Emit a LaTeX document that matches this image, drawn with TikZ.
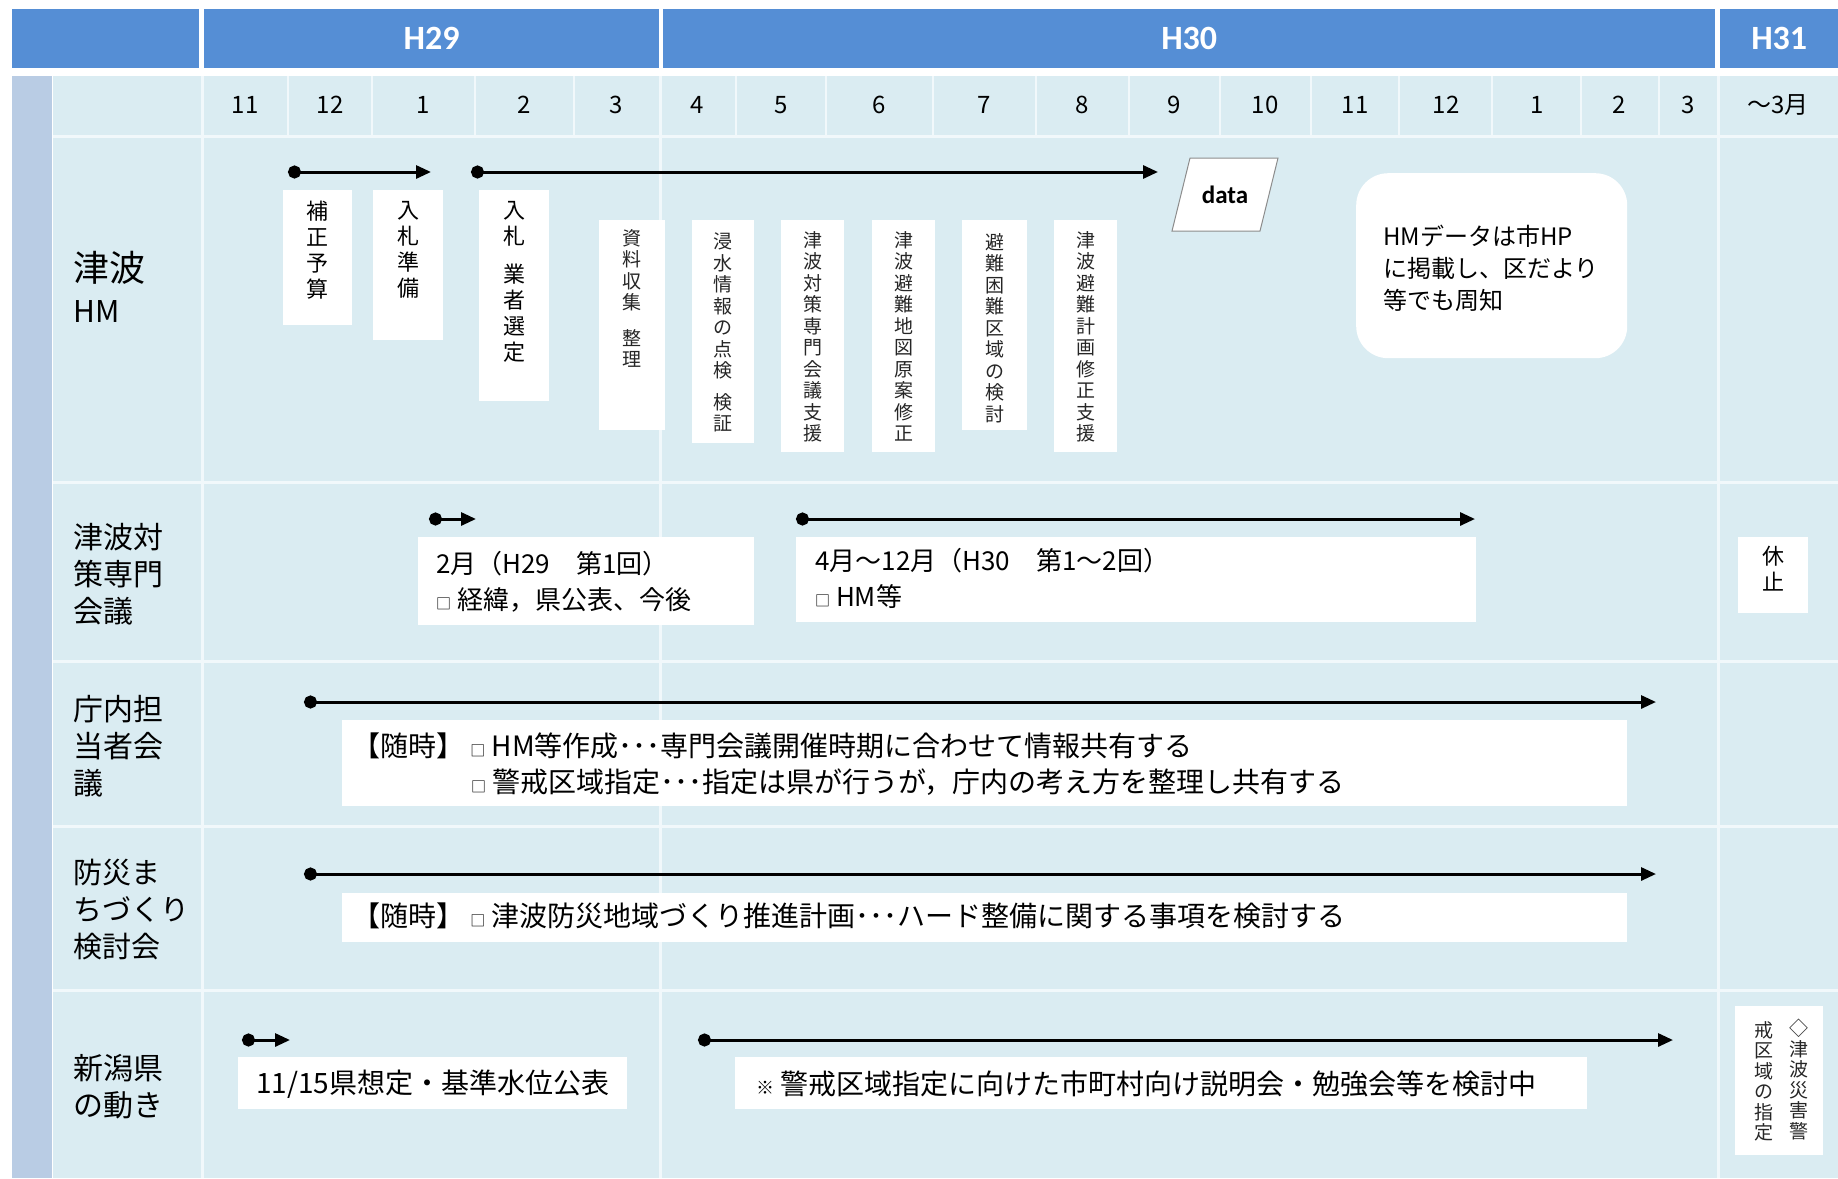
\documentclass[tikz,border=0pt]{standalone}
\usepackage{fontspec}
\setmainfont{Noto Sans CJK JP}
\newfontfamily\hdrfont{Carlito}
\usetikzlibrary{arrows.meta}
\definecolor{hdrblue}{RGB}{85,142,213}
\definecolor{cellblue}{RGB}{218,236,242}
\definecolor{stripblue}{RGB}{185,204,228}
\definecolor{gridwhite}{RGB}{241,248,251}
\newcommand{\sq}{{\fontsize{15}{15}\selectfont □}}
\begin{document}
\begin{tikzpicture}[x=1pt,y=-1pt,
  hdr/.style={fill=hdrblue, inner sep=0pt, anchor=north west, text=white, font=\hdrfont\bfseries\fontsize{34}{40}\selectfont},
  wbox/.style={fill=white, inner sep=0pt, anchor=north west},
  vtxt/.style={anchor=north, align=center, inner sep=0pt, font=\fontsize{22}{26}\selectfont},
  vtxs/.style={anchor=north, align=center, inner sep=0pt, font=\fontsize{19}{21.5}\selectfont, text=black!85},
  txt/.style={anchor=west, inner sep=0pt, font=\fontsize{26}{32}\selectfont},
  wtxt/.style={anchor=west, inner sep=0pt, font=\fontsize{28}{34}\selectfont},
  lbl/.style={anchor=west, align=left, inner sep=0pt, font=\fontsize{30}{37}\selectfont},
  mon/.style={inner sep=0pt, font=\fontsize{24}{28}\selectfont},
  tl/.style={line width=3pt, {Circle[length=13pt]}-{Triangle[length=15pt,width=13pt]}},
  grid/.style={draw=gridwhite, line width=3pt}
]
\useasboundingbox (0,0) rectangle (1838,1178);
\fill[white] (0,0) rectangle (1838,1178);

% header
\node[hdr, minimum width=187, minimum height=59] (h0) at (12,9) {};
\node[hdr, minimum width=455, minimum height=59] (h29) at (204,9) {H29};
\node[hdr, minimum width=1052, minimum height=59] (h30) at (663,9) {H30};
\node[hdr, minimum width=118, minimum height=59] (h31) at (1720,9) {H31};

% body background
\fill[cellblue] (53,76) rectangle (1838,1178);
\fill[stripblue] (12,76) rectangle (52,1178);
\foreach \y in {136,482,661,826,990} \draw[grid] (53,\y) -- (1838,\y);
\foreach \x in {202,660,1718} \draw[grid] (\x,76) -- (\x,1178);
\foreach \x in {288,372,475,574,736,826,933,1036,1129,1220,1311,1399,1492,1581,1659} \draw[grid, line width=2.5pt] (\x,76) -- (\x,136);

% months
\foreach \x/\t [count=\i] in {245/11,330/12,423/1,524/2,616/3,697/4,781/5,879/6,984/7,1082/8,1174/9,1265/10,1355/11,1446/12,1537/1,1619/2,1688/3,1778/～3月}
  \node[mon] (m\i) at (\x,105) {\t};

% row labels
\node[anchor=west, inner sep=0pt, font=\fontsize{36}{40}\selectfont] (l1a) at (73,268) {津波};
\node[anchor=west, inner sep=0pt, font=\fontsize{30}{36}\selectfont] (l1b) at (73,311) {HM};
\node[lbl] (l2) at (73,574) {津波対\\策専門\\会議};
\node[lbl] (l3) at (73,746) {庁内担\\当者会\\議};
\node[lbl, font=\fontsize{29}{37}\selectfont] (l4) at (73,910) {防災ま\\ちづくり\\検討会};
\node[lbl] (l5) at (73,1087) {新潟県\\の動き};

% ---- HM row
\coordinate (a1s) at (288,172); \coordinate (a1e) at (431,172);
\coordinate (a2s) at (471,172); \coordinate (a2e) at (1158,172);
\draw[tl] (a1s) -- (a1e);
\draw[tl] (a2s) -- (a2e);

\node[wbox, minimum width=69, minimum height=135] (b1) at (283,190) {};
\node[vtxt] (b1t) at ([yshift=-11]b1.north) {補\\正\\予\\算};
\node[wbox, minimum width=70, minimum height=150] (b2) at (373,190) {};
\node[vtxt] (b2t) at ([yshift=-11]b2.north) {入\\札\\準\\備};
\node[wbox, minimum width=70, minimum height=211] (b3) at (479,190) {};
\node[vtxt] (b3t) at ([yshift=-11]b3.north) {入\\札\\[12pt]業\\者\\選\\定};

\node[wbox, minimum width=66, minimum height=210] (b4) at (599,220) {};
\node[vtxs] (b4t) at ([yshift=-9]b4.north) {資\\料\\収\\集\\[14pt]整\\理};
\node[wbox, minimum width=62, minimum height=223] (b5) at (692,220) {};
\node[vtxs] (b5t) at ([yshift=-13]b5.north) {浸\\水\\情\\報\\の\\点\\検\\[10pt]検\\証};
\node[wbox, minimum width=63, minimum height=232] (b6) at (781,220) {};
\node[vtxs] (b6t) at ([yshift=-11]b6.north) {津\\波\\対\\策\\専\\門\\会\\議\\支\\援};
\node[wbox, minimum width=63, minimum height=232] (b7) at (872,220) {};
\node[vtxs] (b7t) at ([yshift=-11]b7.north) {津\\波\\避\\難\\地\\図\\原\\案\\修\\正};
\node[wbox, minimum width=65, minimum height=210] (b8) at (962,220) {};
\node[vtxs] (b8t) at ([yshift=-13]b8.north) {避\\難\\困\\難\\区\\域\\の\\検\\討};
\node[wbox, minimum width=63, minimum height=232] (b9) at (1054,220) {};
\node[vtxs] (b9t) at ([yshift=-11]b9.north) {津\\波\\避\\難\\計\\画\\修\\正\\支\\援};

\coordinate (d1) at (1190,158); \coordinate (d2) at (1278,158);
\coordinate (d3) at (1260,231); \coordinate (d4) at (1172,231);
\filldraw[fill=white, draw=black!45, line width=1pt] (d1) -- (d2) -- (d3) -- (d4) -- cycle;
\node[inner sep=0pt, font=\hdrfont\bfseries\fontsize{25}{30}\selectfont] (data) at (1225,195) {data};

\node[wbox, rounded corners=32pt, minimum width=271, minimum height=185] (hm) at (1356,173) {};
\node[anchor=north west, align=left, inner sep=0pt, font=\fontsize{24}{32}\selectfont] (hmt) at (1383,225) {HMデータは市HP\\に掲載し、区だより\\等でも周知};

% ---- 津波対策専門会議 row
\coordinate (a3s) at (429,519); \coordinate (a3e) at (476,519);
\coordinate (a4s) at (796,519); \coordinate (a4e) at (1475,519);
\draw[tl] (a3s) -- (a3e);
\draw[tl] (a4s) -- (a4e);
\node[wbox, minimum width=336, minimum height=88] (c1) at (418,537) {};
\node[txt] (c1a) at (436,564) {2月（H29　第1回）};
\node[txt] (c1b) at (436,600) {\sq\ 経緯，県公表、今後};
\node[wbox, minimum width=680, minimum height=85] (c2) at (796,537) {};
\node[txt] (c2a) at (815,561) {4月～12月（H30　第1～2回）};
\node[txt] (c2b) at (815,597) {\sq\ HM等};
\node[wbox, minimum width=70, minimum height=76] (c3) at (1738,537) {};
\node[vtxt] (c3t) at ([yshift=-9]c3.north) {休\\止};

% ---- 庁内担当者会議 row
\coordinate (a5s) at (304,702); \coordinate (a5e) at (1656,702);
\draw[tl] (a5s) -- (a5e);
\node[wbox, minimum width=1285, minimum height=86] (e1) at (342,720) {};
\node[wtxt] (e1a) at (352,746) {【随時】 \sq\ HM等作成･･･専門会議開催時期に合わせて情報共有する};
\node[wtxt] (e1b) at (471,782) {\sq\ 警戒区域指定･･･指定は県が行うが，庁内の考え方を整理し共有する};

% ---- 防災まちづくり検討会 row
\coordinate (a6s) at (304,874); \coordinate (a6e) at (1656,874);
\draw[tl] (a6s) -- (a6e);
\node[wbox, minimum width=1285, minimum height=49] (f1) at (342,893) {};
\node[wtxt] (f1a) at (352,916) {【随時】 \sq\ 津波防災地域づくり推進計画･･･ハード整備に関する事項を検討する};

% ---- 新潟県の動き row
\coordinate (a7s) at (242,1040); \coordinate (a7e) at (290,1040);
\coordinate (a8s) at (698,1040); \coordinate (a8e) at (1673,1040);
\draw[tl] (a7s) -- (a7e);
\draw[tl] (a8s) -- (a8e);
\node[wbox, minimum width=389, minimum height=52] (g1) at (238,1057) {};
\node[wtxt] (g1a) at (256,1084) {11/15県想定・基準水位公表};
\node[wbox, minimum width=852, minimum height=52] (g2) at (735,1057) {};
\node[wtxt] (g2a) at (756,1084) {{\fontsize{18}{18}\selectfont ※} 警戒区域指定に向けた市町村向け説明会・勉強会等を検討中};
\node[wbox, minimum width=88, minimum height=149] (g3) at (1735,1006) {};
\node[vtxs, font=\fontsize{19}{20.5}\selectfont] (g3r) at (1799,1019) {◇\\津\\波\\災\\害\\警};
\node[vtxs, font=\fontsize{19}{20.5}\selectfont] (g3l) at (1764,1021) {戒\\区\\域\\の\\指\\定};
\end{tikzpicture}
\end{document}
